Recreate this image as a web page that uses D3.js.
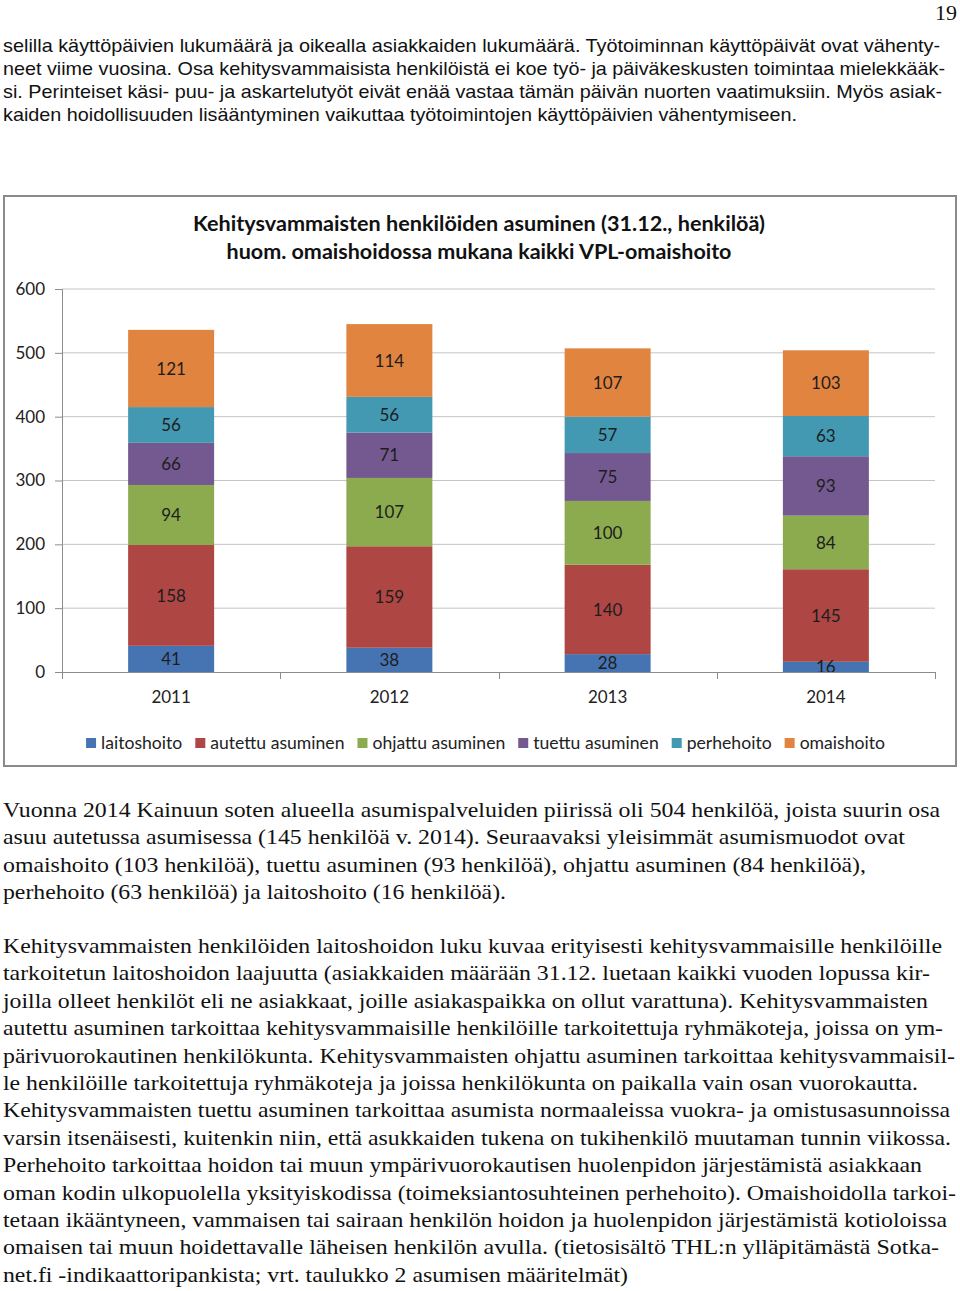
<!DOCTYPE html>
<html>
<head>
<meta charset="utf-8">
<script src="https://cdn.jsdelivr.net/npm/d3@7"></script>
<style>
html,body{margin:0;padding:0;background:#fff;}
svg{display:block;}
</style>
</head>
<body>
<svg id="page" width="960" height="1291"></svg>
<script>
// ---------- data ----------
const years = ["2011", "2012", "2013", "2014"];
const seriesNames = ["laitoshoito", "autettu asuminen", "ohjattu asuminen", "tuettu asuminen", "perhehoito", "omaishoito"];
const laitoshoito = [41, 38, 28, 16];
const autettu = [158, 159, 140, 145];
const ohjattu = [94, 107, 100, 84];
const tuettu = [66, 71, 75, 93];
const perhehoito = [56, 56, 57, 63];
const omaishoito = [121, 114, 107, 103];
const yTicks = [0, 100, 200, 300, 400, 500, 600];
const titleLines = ["Kehitysvammaisten henkilöiden asuminen (31.12., henkilöä)", "huom. omaishoidossa mukana kaikki VPL-omaishoito"];
const colors = ["#4674b3", "#ae4644", "#8cab4f", "#73598f", "#4398b2", "#e0843f"];

const topText = [
  "selilla käyttöpäivien lukumäärä ja oikealla asiakkaiden lukumäärä. Työtoiminnan käyttöpäivät ovat vähenty-",
  "neet viime vuosina. Osa kehitysvammaisista henkilöistä ei koe työ- ja päiväkeskusten toimintaa mielekkääk-",
  "si. Perinteiset käsi- puu- ja askartelutyöt eivät enää vastaa tämän päivän nuorten vaatimuksiin. Myös asiak-",
  "kaiden hoidollisuuden lisääntyminen vaikuttaa työtoimintojen käyttöpäivien vähentymiseen."
];
const topEnds = [940, 945, 942, 797];
const para1 = [
  "Vuonna 2014 Kainuun soten alueella asumispalveluiden piirissä oli 504 henkilöä, joista suurin osa",
  "asuu autetussa asumisessa (145 henkilöä v. 2014). Seuraavaksi yleisimmät asumismuodot ovat",
  "omaishoito (103 henkilöä), tuettu asuminen (93 henkilöä), ohjattu asuminen (84 henkilöä),",
  "perhehoito (63 henkilöä) ja laitoshoito (16 henkilöä)."
];
const para1Ends = [940, 905, 866, 506];
const para2 = [
  "Kehitysvammaisten henkilöiden laitoshoidon luku kuvaa erityisesti kehitysvammaisille henkilöille",
  "tarkoitetun laitoshoidon laajuutta (asiakkaiden määrään 31.12. luetaan kaikki vuoden lopussa kir-",
  "joilla olleet henkilöt eli ne asiakkaat, joille asiakaspaikka on ollut varattuna). Kehitysvammaisten",
  "autettu asuminen tarkoittaa kehitysvammaisille henkilöille tarkoitettuja ryhmäkoteja, joissa on ym-",
  "pärivuorokautinen henkilökunta. Kehitysvammaisten ohjattu asuminen tarkoittaa kehitysvammaisil-",
  "le henkilöille tarkoitettuja ryhmäkoteja ja joissa henkilökunta on paikalla vain osan vuorokautta.",
  "Kehitysvammaisten tuettu asuminen tarkoittaa asumista normaaleissa vuokra- ja omistusasunnoissa",
  "varsin itsenäisesti, kuitenkin niin, että asukkaiden tukena on tukihenkilö muutaman tunnin viikossa.",
  "Perhehoito tarkoittaa hoidon tai muun ympärivuorokautisen huolenpidon järjestämistä asiakkaan",
  "oman kodin ulkopuolella yksityiskodissa (toimeksiantosuhteinen perhehoito). Omaishoidolla tarkoi-",
  "tetaan ikääntyneen, vammaisen tai sairaan henkilön hoidon ja huolenpidon järjestämistä kotioloissa",
  "omaisen tai muun hoidettavalle läheisen henkilön avulla. (tietosisältö THL:n ylläpitämästä Sotka-",
  "net.fi -indikaattoripankista; vrt. taulukko 2 asumisen määritelmät)"
];
const para2Ends = [942, 930, 928, 943, 955, 918, 950, 951, 922, 956, 947, 939, 628];

// ---------- page ----------
const svg = d3.select("#page");
const sansBody = "'Liberation Sans', Arial, sans-serif";
const serifBody = "'Liberation Serif', 'Times New Roman', serif";
const chartFont = "Lato, 'Open Sans', sans-serif";

svg.append("text").attr("x", 957).attr("y", 20).attr("text-anchor", "end")
  .attr("font-family", serifBody).attr("font-size", 22).attr("fill", "#111").text("19");

function textBlock(lines, ends, startY, step, font, size) {
  svg.append("g").selectAll("text").data(lines).join("text")
    .attr("x", 3)
    .attr("y", (d, i) => startY + i * step)
    .attr("font-family", font).attr("font-size", size).attr("fill", "#111")
    .attr("textLength", (d, i) => ends[i] - 3)
    .attr("lengthAdjust", "spacingAndGlyphs")
    .text(d => d);
}
textBlock(topText, topEnds, 52, 23, sansBody, 18.5);
textBlock(para1, para1Ends, 817, 27.4, serifBody, 21);
textBlock(para2, para2Ends, 953, 27.4, serifBody, 21);

// ---------- chart ----------
const frame = {x: 3, y: 195, w: 954, h: 572};
svg.append("rect").attr("x", frame.x + 1).attr("y", frame.y + 1)
  .attr("width", frame.w - 2).attr("height", frame.h - 2)
  .attr("fill", "#fff").attr("stroke", "#8a8a8a").attr("stroke-width", 2);

const plot = {left: 62, right: 935, top: 289, bottom: 672};
const x = d3.scaleBand().domain(years).range([plot.left, plot.right])
  .paddingInner(0.606).paddingOuter(0.303);
const xOuter = d3.scaleBand().domain(years).range([plot.left, plot.right]);
const y = d3.scaleLinear().domain([0, 600]).range([plot.bottom, plot.top]);

// gridlines
svg.append("g").selectAll("line").data(yTicks.filter(t => t > 0)).join("line")
  .attr("x1", plot.left).attr("x2", plot.right)
  .attr("y1", d => y(d)).attr("y2", d => y(d))
  .attr("stroke", "#c4c4c4").attr("stroke-width", 1);

// y axis
const yAxis = svg.append("g").attr("transform", `translate(${plot.left},0)`)
  .call(d3.axisLeft(y).tickValues(yTicks).tickSize(7).tickPadding(10).tickFormat(d3.format("d")));
yAxis.select(".domain").attr("stroke", "#8c8c8c");
yAxis.selectAll(".tick line").attr("stroke", "#8c8c8c");
yAxis.selectAll(".tick text").attr("font-family", chartFont).attr("font-size", 17).attr("fill", "#222");

// stacked bars
const rows = years.map((yr, i) => ({
  year: yr,
  "laitoshoito": laitoshoito[i],
  "autettu asuminen": autettu[i],
  "ohjattu asuminen": ohjattu[i],
  "tuettu asuminen": tuettu[i],
  "perhehoito": perhehoito[i],
  "omaishoito": omaishoito[i]
}));
const stack = d3.stack().keys(seriesNames)(rows);
const color = d3.scaleOrdinal().domain(seriesNames).range(colors);

const layers = svg.append("g").selectAll("g").data(stack).join("g")
  .attr("fill", d => color(d.key));
layers.selectAll("rect").data(d => d).join("rect")
  .attr("x", d => x(d.data.year))
  .attr("width", x.bandwidth())
  .attr("y", d => y(d[1]))
  .attr("height", d => y(d[0]) - y(d[1]));

// data labels
const labels = svg.append("g");
stack.forEach(layer => {
  labels.selectAll(null).data(layer).join("text")
    .attr("x", d => x(d.data.year) + x.bandwidth() / 2)
    .attr("y", d => (y(d[0]) + y(d[1])) / 2)
    .attr("dy", "0.36em")
    .attr("text-anchor", "middle")
    .attr("font-family", chartFont).attr("font-size", 17).attr("fill", "#1d1d1d")
    .text(d => d[1] - d[0]);
});

// x axis
const xAxis = svg.append("g").attr("transform", `translate(0,${plot.bottom})`);
xAxis.append("line").attr("x1", plot.left - 7).attr("x2", plot.right)
  .attr("y1", 0.5).attr("y2", 0.5).attr("stroke", "#8c8c8c");
const bounds = years.map(yr => xOuter(yr)).concat([plot.right]);
xAxis.selectAll("line.tk").data(bounds).join("line").attr("class", "tk")
  .attr("x1", d => Math.round(d) + 0.5).attr("x2", d => Math.round(d) + 0.5)
  .attr("y1", 0).attr("y2", 7).attr("stroke", "#8c8c8c");
xAxis.selectAll("text").data(years).join("text")
  .attr("x", d => x(d) + x.bandwidth() / 2)
  .attr("y", 31)
  .attr("text-anchor", "middle")
  .attr("font-family", chartFont).attr("font-size", 17).attr("fill", "#222")
  .text(d => d);

// title
svg.append("g").selectAll("text").data(titleLines).join("text")
  .attr("x", 479)
  .attr("y", (d, i) => 231 + i * 28)
  .attr("text-anchor", "middle")
  .attr("font-family", chartFont).attr("font-weight", "bold").attr("font-size", 20).attr("fill", "#111")
  .attr("textLength", (d, i) => i === 0 ? 572 : 505)
  .attr("lengthAdjust", "spacingAndGlyphs")
  .text(d => d);

// legend
const legend = svg.append("g");
const items = legend.selectAll("g").data(seriesNames).join("g");
items.append("rect").attr("width", 10).attr("height", 10).attr("fill", d => color(d));
items.append("text").attr("x", 15).attr("y", 5).attr("dy", "0.36em")
  .attr("font-family", chartFont).attr("font-size", 17.6).attr("fill", "#222").text(d => d);
const widths = [];
items.each(function () { widths.push(15 + d3.select(this).select("text").node().getComputedTextLength()); });
const gap = 13;
const total = d3.sum(widths) + gap * (widths.length - 1);
let cx = 485.5 - total / 2;
items.attr("transform", (d, i) => {
  const t = `translate(${cx},738)`;
  cx += widths[i] + gap;
  return t;
});
</script>
</body>
</html>
